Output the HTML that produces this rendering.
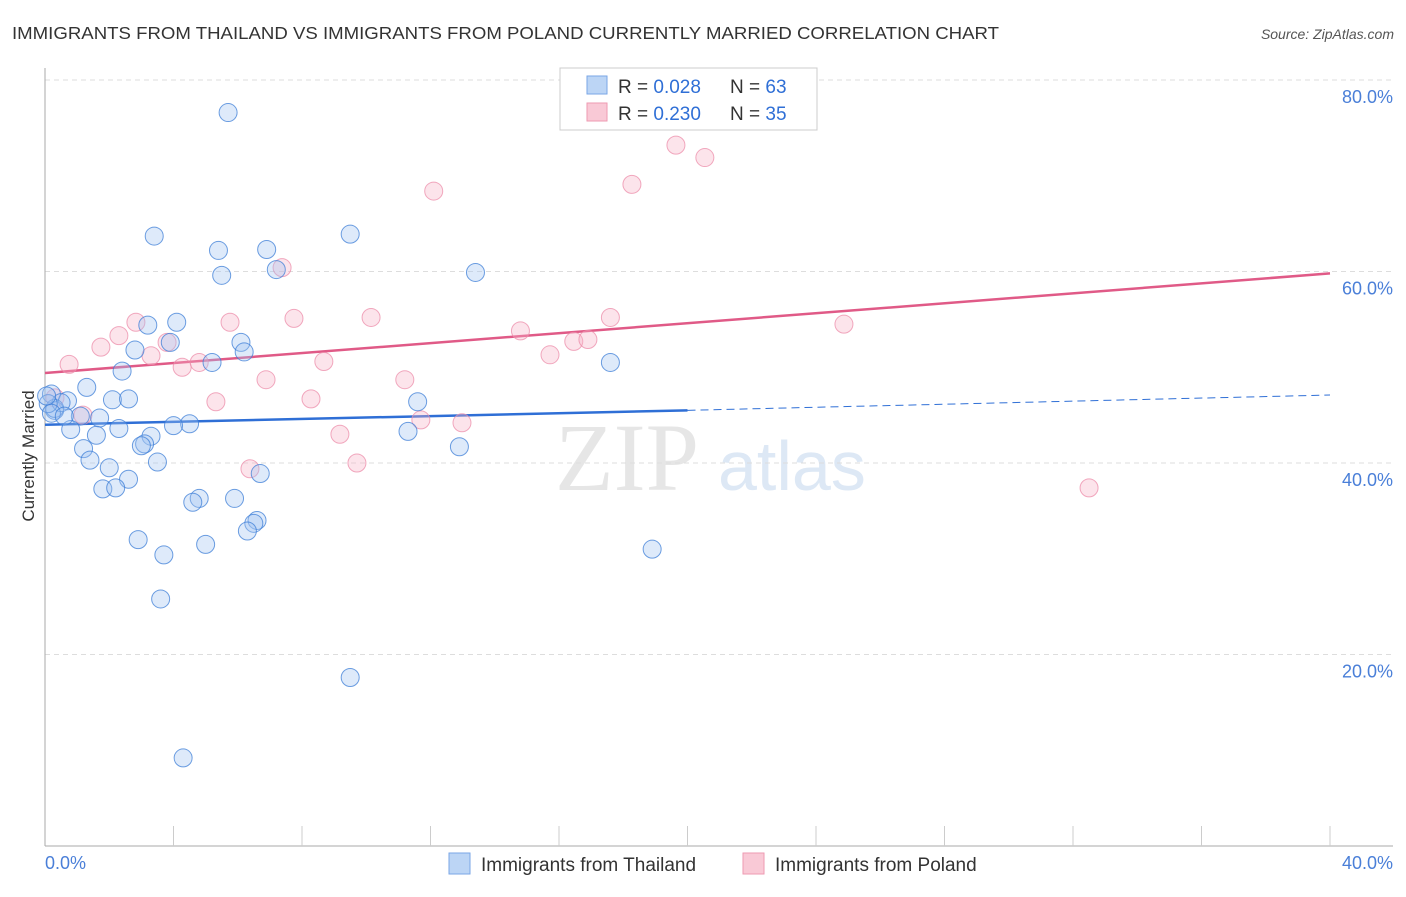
<!DOCTYPE html>
<html><head><meta charset="utf-8"><style>
body{margin:0;background:#fff;width:1406px;height:892px;overflow:hidden;font-family:"Liberation Sans",sans-serif}
</style></head><body>
<svg id="chart" width="1406" height="892" xmlns="http://www.w3.org/2000/svg">
<text x="12" y="39" font-size="17.5" fill="#333" textLength="987" lengthAdjust="spacingAndGlyphs">IMMIGRANTS FROM THAILAND VS IMMIGRANTS FROM POLAND CURRENTLY MARRIED CORRELATION CHART</text>
<text x="1394" y="39" font-size="14" fill="#555" font-style="italic" text-anchor="end">Source: ZipAtlas.com</text>
<text x="555" y="490" font-size="96" fill="#e6e6e6" font-family="Liberation Serif">ZIP</text>
<text x="718" y="490" font-size="70" fill="#dde8f5">atlas</text>
<g id="grid"></g><g id="axes"></g><g id="lines"></g><g id="pts"></g>
<text transform="translate(34,456) rotate(-90)" font-size="17" fill="#333" text-anchor="middle">Currently Married</text>
<text x="45" y="869" font-size="18" fill="#4a7fd8">0.0%</text>
<text x="1393" y="869" font-size="18" fill="#4a7fd8" text-anchor="end">40.0%</text>
<g>
<rect x="560" y="68" width="257" height="62" fill="#fff" stroke="#ccc"/>
<rect x="587" y="76" width="20" height="18" fill="#bcd5f5" stroke="#7aa6e6"/>
<text x="618" y="93" font-size="19" fill="#333">R = <tspan fill="#2f6fd6">0.028</tspan></text>
<text x="730" y="93" font-size="19" fill="#333">N = <tspan fill="#2f6fd6">63</tspan></text>
<rect x="587" y="103" width="20" height="18" fill="#f9c9d6" stroke="#ee9ab2"/>
<text x="618" y="120" font-size="19" fill="#333">R = <tspan fill="#2f6fd6">0.230</tspan></text>
<text x="730" y="120" font-size="19" fill="#333">N = <tspan fill="#2f6fd6">35</tspan></text>
</g>
<g>
<rect x="449" y="853" width="21" height="21" fill="#bcd5f5" stroke="#7aa6e6"/>
<text x="481" y="871" font-size="19" fill="#333">Immigrants from Thailand</text>
<rect x="743" y="853" width="21" height="21" fill="#f9c9d6" stroke="#ee9ab2"/>
<text x="775" y="871" font-size="19" fill="#333">Immigrants from Poland</text>
</g>
</svg>
<script>
const yTicks=[20,40,60,80];
const thaiX=[5.7,3.4,9.5,5.4,6.9,5.5,7.2,13.4,3.2,4.1,3.9,2.8,6.1,6.2,5.2,17.6,2.4,1.3,0.2,2.1,2.6,0.7,0.3,1.1,1.7,11.6,4.5,4.0,2.3,0.8,1.6,11.3,3.3,3.1,3.0,1.2,12.9,1.4,3.5,2.0,6.7,2.6,1.8,2.2,4.8,4.6,5.9,6.6,6.5,6.3,2.9,5.0,3.7,18.9,3.6,9.5,4.3,0.3,0.5,0.1,0.2,0.6,0.05];
const thaiY=[76.6,63.7,63.9,62.2,62.3,59.6,60.2,59.9,54.4,54.7,52.6,51.8,52.6,51.6,50.5,50.5,49.6,47.9,47.2,46.6,46.7,46.5,45.5,44.9,44.7,46.4,44.1,43.9,43.6,43.5,42.9,43.3,42.8,42.0,41.8,41.5,41.7,40.3,40.1,39.5,38.9,38.3,37.3,37.4,36.3,35.9,36.3,34.0,33.7,32.9,32.0,31.5,30.4,31.0,25.8,17.6,9.2,45.7,46.3,46.2,45.2,44.9,47.0];
const polX=[0.75,1.74,2.3,2.83,3.3,3.8,4.27,4.8,5.76,5.32,6.88,7.38,7.75,8.68,8.28,9.18,9.71,10.15,11.2,11.7,12.1,12.98,14.8,15.72,16.46,16.9,17.6,18.27,19.64,20.54,24.87,32.5,6.38,1.18,0.31];
const polY=[50.3,52.1,53.3,54.7,51.2,52.6,50.0,50.5,54.7,46.4,48.7,60.4,55.1,50.6,46.7,43.0,40.0,55.2,48.7,44.5,68.4,44.2,53.8,51.3,52.7,52.9,55.2,69.1,73.2,71.9,54.5,37.4,39.4,45.0,46.8];
const thaiTrend=[[0,44.0],[20,45.5],[40,47.1]];
const polTrend=[[0,49.4],[40,59.8]];
const NS='http://www.w3.org/2000/svg';
const X=v=>45+v/40*1285, Y=v=>846-v/80*766;
function mk(t,a,p){const e=document.createElementNS(NS,t);for(const k in a)e.setAttribute(k,a[k]);document.getElementById(p).appendChild(e);return e;}
yTicks.forEach(t=>{
 const g=mk('line',{x1:45,x2:1393,y1:Y(t),y2:Y(t),stroke:'#ddd','stroke-dasharray':'5,4'},'grid');
 
 
 const l=mk('text',{x:1393,y:Y(t)+23,'font-size':18,fill:'#4a7fd8','text-anchor':'end'},'grid');
 l.textContent=t.toFixed(1)+'%';
 
 
});
const ax=mk('line',{x1:45,x2:45,y1:68,y2:846,stroke:'#aaa'},'axes');


const bx=mk('line',{x1:45,x2:1393,y1:846,y2:846,stroke:'#aaa'},'axes');


for(let i=1;i<=10;i++){const t=mk('line',{x1:X(i*4),x2:X(i*4),y1:826,y2:846,stroke:'#ccc'},'axes');
 
 }
let t1=mk('line',{x1:X(thaiTrend[0][0]),y1:Y(thaiTrend[0][1]),x2:X(thaiTrend[1][0]),y2:Y(thaiTrend[1][1]),stroke:'#2f6fd6','stroke-width':2.5},'lines');


let t2=mk('line',{x1:X(thaiTrend[1][0]),y1:Y(thaiTrend[1][1]),x2:X(thaiTrend[2][0]),y2:Y(thaiTrend[2][1]),stroke:'#2f6fd6','stroke-width':1,'stroke-dasharray':'8,5'},'lines');


let t3=mk('line',{x1:X(polTrend[0][0]),y1:Y(polTrend[0][1]),x2:X(polTrend[1][0]),y2:Y(polTrend[1][1]),stroke:'#e05a87','stroke-width':2.5},'lines');


polX.forEach((v,i)=>{const c=mk('circle',{cx:X(v),cy:Y(polY[i]),r:9,fill:'rgba(246,178,198,0.35)',stroke:'rgba(236,140,170,0.75)','stroke-width':1},'pts');
 
 });
thaiX.forEach((v,i)=>{const c=mk('circle',{cx:X(v),cy:Y(thaiY[i]),r:9,fill:'rgba(160,196,240,0.35)',stroke:'rgba(60,125,215,0.75)','stroke-width':1},'pts');
 
 });
</script>
</body></html>
